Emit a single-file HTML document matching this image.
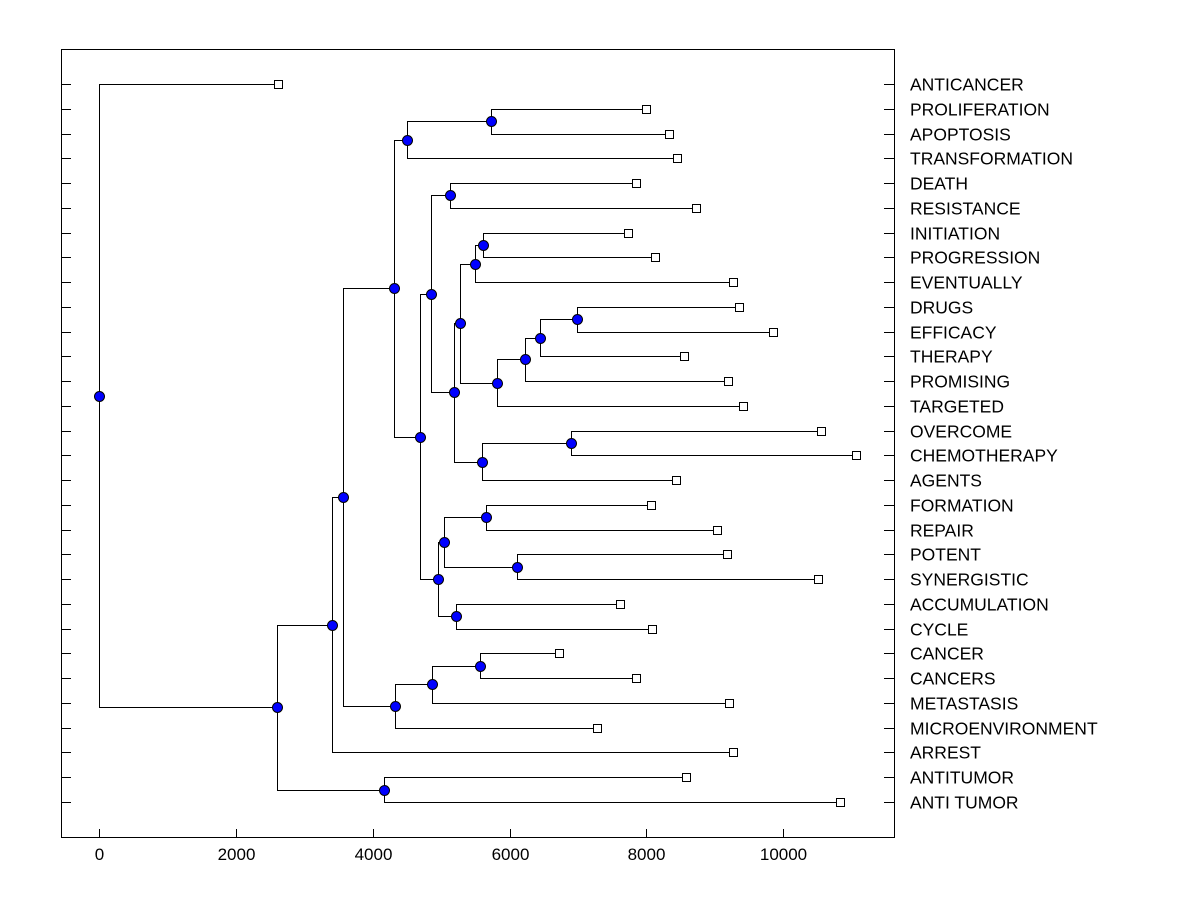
<!DOCTYPE html>
<html><head><meta charset="utf-8"><style>
html,body{margin:0;padding:0;background:#fff;}
svg text{font-family:"Liberation Sans",Arial,sans-serif;}
</style></head><body>
<svg id="chart" width="1200" height="900" xmlns="http://www.w3.org/2000/svg"></svg>
<script>
const leafNames = ["ANTICANCER","PROLIFERATION","APOPTOSIS","TRANSFORMATION","DEATH","RESISTANCE","INITIATION","PROGRESSION","EVENTUALLY","DRUGS","EFFICACY","THERAPY","PROMISING","TARGETED","OVERCOME","CHEMOTHERAPY","AGENTS","FORMATION","REPAIR","POTENT","SYNERGISTIC","ACCUMULATION","CYCLE","CANCER","CANCERS","METASTASIS","MICROENVIRONMENT","ARREST","ANTITUMOR","ANTI TUMOR"];
const leafValues = [2617,7997,8333,8450,7851,8728,7734,8129,9269,9357,9854,8553,9196,9415,10556,11067,8436,8070,9035,9181,10512,7617,8085,6725,7851,9211,7281,9269,8582,10833];
const nodeNames = ["nProlif","nA","nDeath","nInit","nEv","nDrugs","nTher","nProm","nTarg","nB","nOver","nAg","nD","nC","nForm","nPot","nE","nAcc","nF","nG","nH","nCan","nMet","nMic","nI","nJ","nAnti","nK","root"];
const nodeLeft = ["PROLIFERATION","nProlif","DEATH","INITIATION","nInit","DRUGS","nDrugs","nTher","nProm","nEv","OVERCOME","nOver","nB","nDeath","FORMATION","POTENT","nForm","ACCUMULATION","nE","nC","nA","CANCER","nCan","nMet","nH","nI","ANTITUMOR","nJ","ANTICANCER"];
const nodeRight = ["APOPTOSIS","TRANSFORMATION","RESISTANCE","PROGRESSION","EVENTUALLY","EFFICACY","THERAPY","PROMISING","TARGETED","nTarg","CHEMOTHERAPY","AGENTS","nAg","nD","REPAIR","SYNERGISTIC","nPot","CYCLE","nAcc","nF","nG","CANCERS","METASTASIS","MICROENVIRONMENT","nMic","ARREST","ANTI TUMOR","nAnti","nK"];
const nodeHeights = [5731,4503,5132,5614,5497,6988,6447,6228,5819,5278,6901,5599,5190,4854,5658,6111,5044,5219,4956,4693,4313,5570,4868,4327,3567,3406,4167,2602,0];
const xTicks = [0,2000,4000,6000,8000,10000];

const svg = document.getElementById('chart');
const NS = "http://www.w3.org/2000/svg";
const L=61,R=894,T=49,B=837;
const xMin=-557, xMax=11620;
const sx = v => L + (v - xMin) / (xMax - xMin) * (R - L);
const rowTop=84, rowStep=(802-84)/29;
const sy = i => rowTop + i*rowStep;
function mk(tag, attrs, parent){const e=document.createElementNS(NS,tag);for(const k in attrs)e.setAttribute(k,attrs[k]);(parent||svg).appendChild(e);return e;}

const frame = mk('rect',{x:L+0.5,y:T+0.5,width:R-L,height:B-T,fill:'none',stroke:'#000'});



xTicks.forEach(t=>{
  const x=Math.round(sx(t))+0.5;
  const tk=mk('line',{x1:x,y1:B-8,x2:x,y2:B,stroke:'#000'});
  
  
  const lb=mk('text',{x:x,y:860,'text-anchor':'middle','font-size':17});
  lb.textContent=t;
  
  
});

const pos = {};
leafNames.forEach((n,i)=>{pos[n]={x:leafValues[i],y:sy(i)};});
leafNames.forEach((n,i)=>{
  const y=Math.round(sy(i))+0.5;
  const tl=mk('line',{x1:L,y1:y,x2:L+10,y2:y,stroke:'#000'});
  
  
  const tr=mk('line',{x1:R-10,y1:y,x2:R,y2:y,stroke:'#000'});
  
  
  const lb=mk('text',{x:910,y:y+6,'font-size':17.5});
  lb.textContent=n;
  
  
});
nodeNames.forEach((n,i)=>{
  const a=pos[nodeLeft[i]], b=pos[nodeRight[i]];
  pos[n]={x:nodeHeights[i],y:(a.y+b.y)/2};
});
const linkG=mk('g',{stroke:'#000','stroke-width':1,fill:'none'});
nodeNames.forEach((n,i)=>{
  const p=pos[n];
  const px=Math.round(sx(p.x))+0.5;
  [nodeLeft[i],nodeRight[i]].forEach(c=>{
    const q=pos[c];
    const cy=Math.round(q.y)+0.5;
    const l=mk('path',{d:`M${px},${Math.round(p.y)+0.5}V${cy}H${Math.round(sx(q.x))+0.5}`},linkG);
    
    
  });
});
leafNames.forEach((n,i)=>{
  const x=Math.round(sx(leafValues[i])), y=Math.round(sy(i));
  const s=mk('rect',{x:x-3.5,y:y-3.5,width:8,height:8,fill:'#fff',stroke:'#000'});
  
  
});
nodeNames.forEach((n,i)=>{
  const p=pos[n];
  const c=mk('circle',{cx:Math.round(sx(p.x))+0.5,cy:Math.round(p.y)+0.5,r:5,fill:'#0000ff',stroke:'#000'});
  
  
});
</script>
</body></html>
